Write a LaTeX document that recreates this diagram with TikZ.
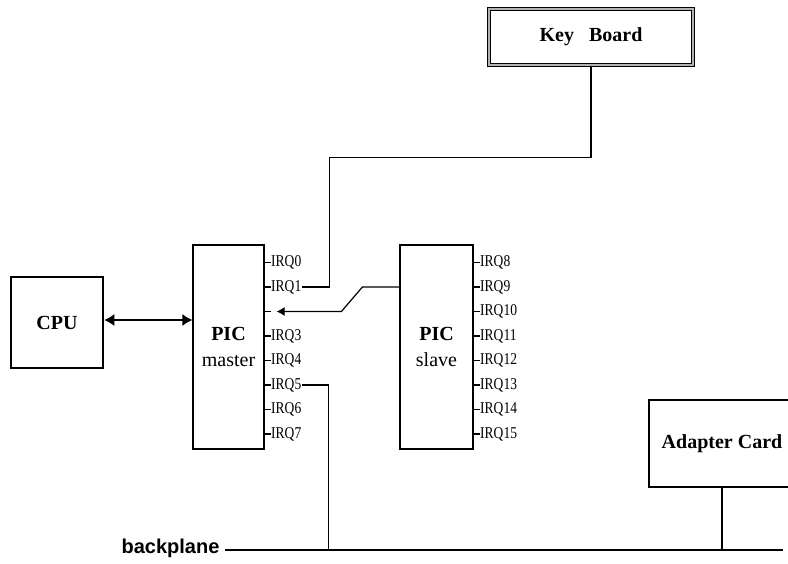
\documentclass[tikz,border=0pt]{standalone}
\usepackage{fontspec}
\setmainfont{Liberation Serif}
\newfontfamily\busfont{Liberation Sans}
\usetikzlibrary{arrows.meta,calc}

% narrow pin labels
\newcommand\pinlabel[1]{\scalebox{.82}[1]{#1}}

\begin{document}
\begin{tikzpicture}[x=1pt,y=1pt,line width=1.2pt,
    unit/.style={draw,inner sep=0pt,align=center,font=\fontsize{20}{26}\selectfont},
    irq/.style={right,inner sep=0pt,font=\fontsize{16.5}{16}\selectfont},
    cascade/.style={-{Latex[length=8pt,width=9pt]}},
    bus/.style={{Latex[length=10pt,width=12pt]}-{Latex[length=10pt,width=12pt]}}]

        \useasboundingbox (0,0) rectangle (788,-563);

        % units
        \node[unit,line width=2.6pt,minimum width=92pt,minimum height=91pt] (cpu) at (57,-322.5) {\textbf{CPU}};
        \node[unit,minimum width=71pt,minimum height=204pt] (master) at (228.5,-347) {\textbf{PIC}\\master};
        \node[unit,minimum width=73pt,minimum height=204pt] (slave) at (436.5,-347) {\textbf{PIC}\\slave};
        \node[unit,line width=1pt,double=gray!60,double distance=2pt,minimum width=204pt,minimum height=56pt] (kb) at (591,-37) {\textbf{Key\enspace{} Board}};
        \node[unit,minimum width=146pt,minimum height=87pt] (card) at (722,-443.5) {\textbf{Adapter Card}};

        % interrupt lines
        \foreach \i in {0,...,7} {
            \pgfmathsetmacro\ry{-262.5-24.5*\i}
            \draw (master.east |- 0,\ry) -- ++(6,0) coordinate (m\i);
            \draw (slave.east |- 0,\ry) -- ++(6,0) coordinate (s\i);
        }
        \foreach \i in {0,1,3,4,5,6,7}
            \node[irq] (l\i) at (m\i) {\pinlabel{IRQ\i}};
        \foreach \i [evaluate=\i as \n using int(\i+8)] in {0,...,7}
            \node[irq] (h\i) at (s\i) {\pinlabel{IRQ\n}};

        % connections
        \draw[bus] (cpu.east |- 0,-320) -- (master.west |- 0,-320);
        \draw (kb.south) -- ++(0,-92) -| ([xshift=28pt]l1.east) -- (l1.east);
        \draw[cascade] (slave.west |- m1) -- ++(-37,0) -- ++(-21,-24.5) -- ([xshift=6pt]m2);

        % backplane
        \node[font=\busfont\bfseries\fontsize{20}{20}\selectfont,anchor=base east,inner sep=0pt] (bp) at (220,-553) {backplane};
        \coordinate (bpend) at (783,-550);
        \draw ([shift={(5,3)}]bp.base east) -- (bpend);
        \draw (l5.east) -- ++(27,0) coordinate (t5);
        \draw (t5) -- (t5 |- bpend);
        \draw (card.south) -- (card.south |- bpend);
    \end{tikzpicture}
\end{document}
